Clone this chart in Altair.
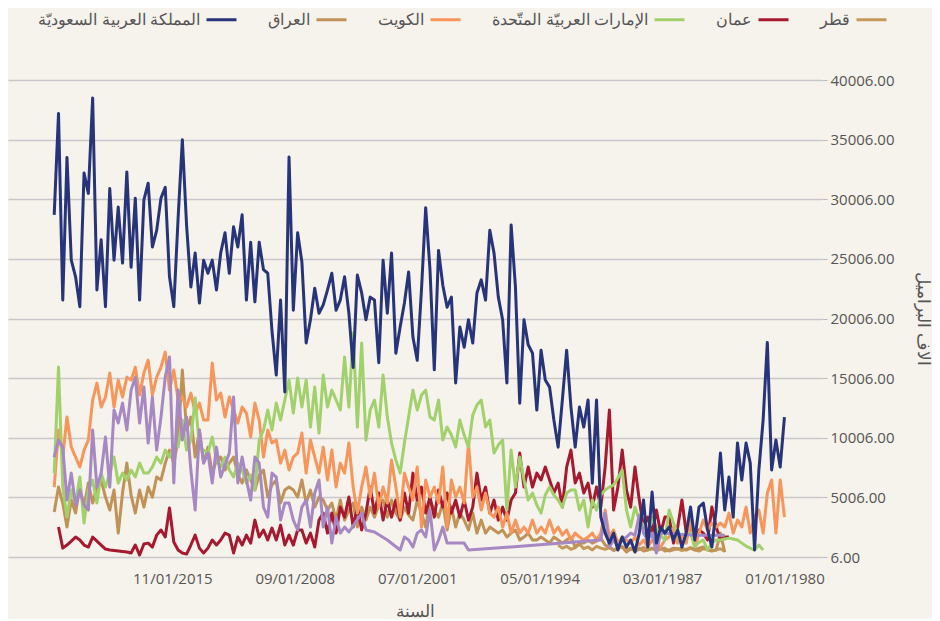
import altair as alt
import pandas as pd

# quarterly dates, newest first (Oct 2022 back to Jan 1980)
dates = [d.strftime("%Y-%m-%d") for d in pd.date_range("1980-01-01", periods=172, freq="3MS")[::-1]]

saudi = [28700, 37200, 21550, 33500, 24900, 23500, 21000, 32200, 30500, 38500,
         22400, 26600, 21000, 30900, 24900, 29350, 24650, 32300, 24300, 30100,
         21550, 29950, 31350, 26000, 27400, 30100, 31000, 23500, 21000, 28400,
         35000, 27850, 22650, 25500, 21300, 24900, 23800, 24900, 22400, 25500,
         27200, 23800, 27700, 26000, 28700, 21550, 26400, 21400, 26400, 24100,
         23800, 19000, 15260, 21550, 13840, 33550, 20700, 27200, 24750, 17950,
         19900, 22550, 20450, 21150, 22400, 23800, 20700, 21550, 23500, 20450,
         15900, 23650, 22150, 19900, 21800, 21550, 16300, 24900, 20450, 25500,
         17100, 19300, 21300, 23900, 18450, 16500, 22400, 29300, 24100, 15700,
         25700, 22800, 20950, 21800, 14600, 19300, 17600, 19900, 17950, 22150,
         23250, 21550, 27400, 25500, 21800, 19900, 14600, 27850, 22650, 12900,
         19900, 17800, 17100, 12330, 17350, 14850, 14250, 11500, 9220, 13170,
         17350, 12580, 9220, 12580, 10900, 13170, 6200, 13170, 3350, 2010,
         1170, 2010, 590, 1680, 840, 1430, 420, 2010, 4780, 840,
         5450, 1170, 2520, 2010, 2520, 1430, 2270, 840, 2010, 4200,
         1430, 4200, 4530, 2270, 840, 3950, 8720, 3950, 6710, 3350,
         9560, 6460, 9560, 7880, 590, 7300, 11490, 18000, 7300, 9810,
         7550, 11740]

iraq = [3770, 5870, 4530, 2520, 4780, 3690, 5870, 4190, 6210, 4530,
        5870, 6460, 5030, 3940, 5620, 2010, 5370, 7880, 5200, 3690,
        5620, 4190, 5870, 5030, 6710, 6460, 7880, 8970, 7880, 9810,
        15680, 10650, 11740, 8390, 10650, 7880, 9220, 7040, 8130, 8390,
        7300, 7880, 8390, 6880, 6210, 7300, 6460, 5620, 6880, 7300,
        5030, 6040, 6460, 4530, 5620, 5870, 5620, 5030, 6460, 4530,
        5620, 4190, 5030, 4780, 3940, 4530, 3100, 4780, 3100, 3940,
        4530, 2520, 4190, 3100, 4190, 3350, 4360, 4780, 3350, 4780,
        3690, 3100, 4190, 3520, 3100, 4780, 3690, 2520, 4780, 3940,
        3350, 4530, 2270, 4190, 2520, 3690, 3100, 2270, 3690, 2010,
        3100, 2010, 2520, 2270, 2010, 2270, 1680, 2010, 2270, 1430,
        1680, 2010, 1430, 1430, 1680, 1430, 1170, 1680, 1430, 1170,
        1430, 1680, 840, 1170, 1170, 1430, 1170, 1340, 1590, 1010,
        840, 590, 750, 840, 420, 670, 590, 750, 500, 590,
        750, 670, 840, 500, 590, 750, 670, 750, 590, 750,
        590, 750, 840, 590, 500, 590, 2010, 420]

kuwait = [5870, 10650, 8390, 11740, 9220, 8390, 7550, 8970, 9810, 13170,
          14590, 12580, 13420, 15430, 12580, 14840, 13420, 15090, 14840, 15930,
          13590, 15430, 16520, 13590, 15090, 15930, 17190, 14000, 15680, 13170,
          13420, 12580, 13750, 12080, 12910, 11490, 11490, 16270, 13170, 13750,
          11740, 13420, 12330, 11240, 12580, 12080, 10060, 12910, 11490, 8390,
          10650, 9560, 9810, 7880, 8970, 7300, 8390, 8720, 10400, 7040,
          9810, 8390, 7040, 9220, 6460, 8970, 5870, 7880, 7040, 9560,
          5870, 3690, 5870, 7550, 5030, 7040, 4190, 5870, 4530, 8130,
          5870, 3350, 7040, 5870, 4780, 7550, 2520, 6460, 5030, 5870,
          4530, 7550, 2520, 6460, 5030, 5870, 4530, 9560, 5030, 5870,
          3940, 5370, 3690, 3350, 4190, 2520, 3690, 2010, 3100, 2010,
          2520, 2010, 3100, 2010, 2520, 2010, 3100, 2010, 2520, 1840,
          2270, 1430, 2010, 1680, 1430, 1680, 2010, 1430, 2010, 3940,
          1680, 2270, 1170, 1680, 1430, 1170, 1680, 1010, 1430, 840,
          1430, 1010, 840, 1430, 1680, 2520, 1170, 1840, 1170, 3100,
          840, 2010, 3100, 2270, 2850, 2520, 2850, 2520, 3690, 2010,
          3100, 2520, 4190, 2010, 3350, 3940, 2010, 5370, 6460, 2010,
          6460, 3350]

uae = [7040, 15930, 5870, 3350, 5620, 4530, 6710, 2850, 5620, 6460,
       4530, 7040, 5870, 7040, 8390, 6200, 7040, 6460, 7300, 6710,
       7880, 7040, 7040, 7550, 8390, 7880, 8970, 8390, 9220, 9220,
       11490, 8970, 9810, 13330, 9220, 8970, 8720, 10060, 8130, 7550,
       8390, 7300, 6710, 7880, 7300, 6200, 6880, 5620, 9810, 10650,
       12330, 10650, 12910, 11490, 13170, 14840, 12080, 15010, 12580, 14840,
       10900, 14260, 10400, 15260, 12580, 14000, 13170, 12330, 16770, 12580,
       18790, 10900, 17950, 9810, 12330, 13170, 10900, 15260, 11740, 9560,
       8130, 7040, 9560, 11740, 14000, 12330, 13590, 14000, 11740, 11490,
       13170, 9810, 10900, 10230, 9220, 11490, 10230, 9220, 11910, 12750,
       13170, 10900, 11490, 8720, 9390, 9810, 3940, 8970, 5870, 8390,
       6460, 4780, 5370, 4360, 3690, 5200, 5870, 5200, 4780, 4190,
       5370, 5620, 5620, 3940, 4780, 2520, 4780, 3940, 5200, 5620,
       5870, 6040, 6630, 7300, 3940, 2520, 4190, 3100, 2680, 2010,
       3350, 2430, 1840, 1430, 3940, 2850, 1840, 1170, 1840, 2010,
       840, 1260, 1430, 590, 1170, 1430, 1430, 1510, 1590, 1510,
       1430, 1170, 920, 750, 590, 1010, 590]

oman = [None, 2520, 750, 1010, 1340, 1680, 1430, 1010, 840, 1680,
        1340, 1010, 670, 590, None, None, None, 420, 340, 1010,
        170, 1090, 1170, 840, 1840, 2270, 1680, 4110, 1260, 590,
        340, 250, 1010, 1840, 750, 340, 750, 1430, 1010, 1430,
        2010, 1840, 340, 1680, 1010, 1840, 1170, 3100, 1680, 2270,
        1430, 2430, 1430, 2680, 1010, 1840, 1010, 2270, 2270, 1170,
        2010, 840, 3100, 3690, 2010, 3690, 2010, 4190, 3350, 5030,
        2520, 4190, 2270, 3690, 5870, 3690, 5370, 3100, 4780, 3350,
        4780, 3100, 5370, 3690, 7040, 4780, 5870, 3690, 5030, 3350,
        5620, 4190, 5370, 3690, 4780, 3350, 4780, 3100, 4190, 7040,
        4780, 5870, 3690, 4780, 3100, 4190, 3100, 4780, 5370, 8720,
        5870, 7550, 5870, 7040, 6460, 7550, 6460, 5370, 6210, 4190,
        7550, 8970, 6210, 7040, 5370, 6210, 4190, 5870, 4190, 7550,
        12330, 3940, 5870, 8970, 5620, 4190, 7550, 4780, 2520, 3350,
        2010, 3940, 2010, 3350, 3350, 1170, 2520, 4780, 2010, 2850,
        840, 2270, 2010, 1430, 4190, 2520, 1430, 1680, 1680]

qatar = [None] * 118 + [1000, 750, 900, 650, 800, 1100, 700, 850, 600, 900,
                        750, 650, 800, 550, 700, 900, 600, 750, 500, 650,
                        800, 600, 700, 550, 650, 750, 500, 600, 700, 550,
                        650, 800, 600, 500, 700, 650, 550, 600, 700, 500]

bahrain = [8390, 9810, 9220, 4780, 7040, 4360, 5620, 4360, 3940, 10650,
           5870, 7040, 10060, 5870, 12330, 11240, 12910, 10650, 14000, 15090,
           11240, 14260, 9560, 13420, 8970, 11740, 15090, 16770, 6210, 14000,
           9810, 11740, 7300, 3940, 10650, 7880, 8720, 6210, 9220, 6710,
           7720, 8720, 13420, 6210, 8390, 6460, 4780, 8390, 7880, 4190,
           3350, 7040, 6710, 3100, 4530, 4530, 3100, 2270, 4190, 4780,
           2520, 5370, 6460, 2520, 4190, 1170, 3350, 2010, 2520, 2100,
           None, None, 3690, 2270, None, 2100, None, None, 1430, None,
           None, 590, 1680, 1430, 840, 2010, 2270, 1680, 3940, 590,
           1430, 2520, 1170, 1170, None, None, 1170, 590, None, None,
           None, None, None, None, None, None, None, None, None, None,
           None, None, None, 1010, None, None, None, None, None, 1170,
           None, None, 1260, None, None, None, None, None, 1430, 3690,
           840, 1430, 840, 1430, 1680, 2010, 1840, 3520, 2010, 1430,
           2010, 340, 2010, None, None, None, None, None, None, None,
           1840, None, None, None, None, None, None, 1840]

legend_names = ["المملكة العربية السعوديّة", "العراق", "الكويت",
                "الإمارات العربيّة المتّحدة", "عمان", "قطر"]
extra_name = "البحرين"
colors = ["#283479", "#bf9357", "#f7955b", "#a2d06c", "#a6192e", "#c49a5c", "#a688c2"]

series_values = {
    "المملكة العربية السعوديّة": saudi,
    "العراق": iraq,
    "الكويت": kuwait,
    "الإمارات العربيّة المتّحدة": uae,
    "عمان": oman,
    "قطر": qatar,
    extra_name: bahrain,
}

# drawing order (bottom to top)
draw_order = ["قطر", "العراق", "عمان", "الكويت", "الإمارات العربيّة المتّحدة",
              extra_name, "المملكة العربية السعوديّة"]

x_ticks = [alt.DateTime(year=2015, month=11, date=1, utc=True),
           alt.DateTime(year=2008, month=9, date=1, utc=True),
           alt.DateTime(year=2001, month=7, date=1, utc=True),
           alt.DateTime(year=1994, month=5, date=1, utc=True),
           alt.DateTime(year=1987, month=3, date=1, utc=True),
           alt.DateTime(year=1980, month=1, date=1, utc=True)]
y_ticks = [6, 5006, 10006, 15006, 20006, 25006, 30006, 35006, 40006]

x_enc = alt.X("date:T", title="السنة",
              scale=alt.Scale(type="utc", reverse=True,
                              domain=[alt.DateTime(year=1977, month=10, date=20, utc=True),
                                      alt.DateTime(year=2025, month=6, date=15, utc=True)]),
              axis=alt.Axis(values=x_ticks, labelExpr="utcFormat(datum.value, '%m/%d/%Y')",
                            grid=False, domain=False, ticks=False, labelPadding=14,
                            labelFontSize=15, labelColor="#555555", labelFont="Open Sans",
                            titleFontSize=17, titleColor="#555555", titleFontWeight="normal",
                            titlePadding=17))
y_enc = alt.Y("value:Q", title="آلاف البراميل",
              scale=alt.Scale(domain=[6, 40006], nice=False, zero=False),
              axis=alt.Axis(orient="right", values=y_ticks, format=".2f", grid=True,
                            gridColor="#c9c9c9", gridWidth=1.5, domain=False,
                            tickColor="#bbbbbb", tickSize=5, labelPadding=3,
                            labelFontSize=15, labelColor="#555555", labelFont="Open Sans",
                            titleFontSize=17, titleColor="#555555", titleFontWeight="normal",
                            titlePadding=20, titleAngle=90))
color_enc = alt.Color("series:N",
                      scale=alt.Scale(domain=legend_names + [extra_name], range=colors),
                      legend=alt.Legend(orient="none", legendX=197, legendY=-77,
                                        direction="horizontal", title=None,
                                        values=legend_names, symbolType="stroke",
                                        symbolStrokeWidth=3, symbolSize=900,
                                        labelFontSize=16, labelColor="#555555",
                                        labelLimit=400, columnPadding=25,
                                        labelAlign="right", labelOffset={"expr": "-38"}))

layers = []
for name in draw_order:
    vals = series_values[name]
    rows = [{"date": d, "value": v, "series": name}
            for d, v in zip(dates, vals) if v is not None]
    layers.append(
        alt.Chart(pd.DataFrame(rows)).mark_line(strokeWidth=3, strokeJoin="round")
        .encode(x=x_enc, y=y_enc, color=color_enc)
    )

chart = alt.layer(*layers).properties(
    width=814, height=477, padding={"left": 0, "top": -5, "right": 0, "bottom": 0},
    background="#f6f2ec",
).configure_view(stroke=None)

chart.save("out.html", embed_options={"renderer": "svg", "actions": False})
